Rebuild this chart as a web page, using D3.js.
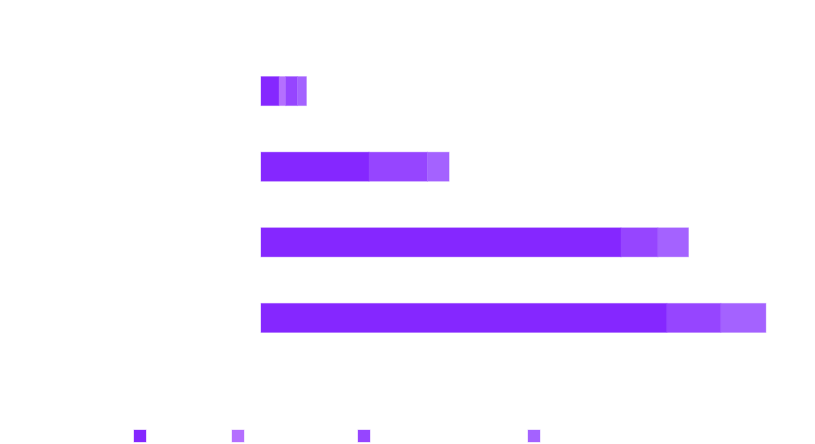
<!DOCTYPE html>
<html>
<head>
<meta charset="utf-8">
<script src="https://cdn.jsdelivr.net/npm/d3@7"></script>
<style>
  body { margin: 0; background: #fff; }
  text { font-family: "Open Sans", sans-serif; }
</style>
</head>
<body>
<div id="chart"></div>
<script>
// data (labels are drawn in white in the original)
var categories = ['Group A', 'Group B', 'Group C', 'Group D'];
var seriesNames = ['Series 1', 'Series 2', 'Series 3', 'Series 4'];
var series1 = [2.0, 12.0, 40.0, 45.1];
var series2 = [0.75, 0, 0, 0];
var series3 = [1.3, 6.5, 4.1, 6.0];
var series4 = [1.0, 2.4, 3.4, 5.0];
var xTicks = [0, 10, 20, 30, 40, 50, 60];
var colors = ['#8527ff', '#b46fff', '#9645ff', '#a462ff'];

var width = 815, height = 444;
var margin = { top: 30, left: 261, bottom: 65, right: 25 };

var svg = d3.select('#chart').append('svg')
    .attr('width', width)
    .attr('height', height);

var g = svg.append('g').attr('transform', 'translate(' + margin.left + ',' + margin.top + ')');
var w = width - margin.left - margin.right;
var h = height - margin.top - margin.bottom;

var x = d3.scaleLinear().domain([0, 59]).range([0, 9 * 59]);
var y = d3.scaleBand().domain(categories).range([0, h]).padding(0.616);

// white grid lines, under the bars
g.append('g').attr('class', 'grid')
    .selectAll('line')
    .data(xTicks)
    .enter().append('line')
        .attr('x1', function(d) { return x(d) + 0.5; })
        .attr('x2', function(d) { return x(d) + 0.5; })
        .attr('y1', 0)
        .attr('y2', h)
        .attr('stroke', '#fff')
        .attr('stroke-width', 1.5);

var rows = categories.map(function(c, i) {
    return { cat: c, s0: series1[i], s1: series2[i], s2: series3[i], s3: series4[i] };
});
var stack = d3.stack().keys(['s0', 's1', 's2', 's3']);
var layers = stack(rows);

g.selectAll('g.layer')
    .data(layers)
    .enter().append('g')
        .attr('class', 'layer')
        .attr('fill', function(d, i) { return colors[i]; })
        .attr('stroke', function(d, i) { return colors[i]; })
    .selectAll('rect')
    .data(function(d) { return d.filter(function(p) { return p[1] > p[0]; }); })
    .enter().append('rect')
        .attr('x', function(d) { return x(d[0]); })
        .attr('y', function(d) { return y(d.data.cat); })
        .attr('width', function(d) { return x(d[1]) - x(d[0]); })
        .attr('height', y.bandwidth())
        .attr('stroke-opacity', 0.35)
        .attr('stroke-width', 1);

// axes, text drawn white like the original
var xAxis = d3.axisBottom(x).tickValues(xTicks).tickSize(0).tickPadding(8);
var ax = g.append('g').attr('transform', 'translate(0,' + h + ')').call(xAxis);
ax.select('.domain').remove();
ax.selectAll('text').attr('fill', '#fff').attr('font-size', 12);

var yAxis = d3.axisLeft(y).tickSize(0).tickPadding(10);
var ay = g.append('g').call(yAxis);
ay.select('.domain').remove();
ay.selectAll('text').attr('fill', '#fff').attr('font-size', 12);

// legend
var legendX = [134, 232, 358, 528];
var legend = svg.append('g').attr('transform', 'translate(0,430)');
var item = legend.selectAll('g')
    .data(seriesNames)
    .enter().append('g')
        .attr('transform', function(d, i) { return 'translate(' + legendX[i] + ',0)'; });
item.append('rect')
    .attr('width', 12)
    .attr('height', 12)
    .attr('fill', function(d, i) { return colors[i]; })
    .attr('stroke', function(d, i) { return colors[i]; })
    .attr('stroke-opacity', 0.35);
item.append('text')
    .attr('x', 18)
    .attr('y', 10)
    .attr('font-size', 12)
    .attr('fill', '#fff')
    .text(function(d) { return d; });
</script>
</body>
</html>
